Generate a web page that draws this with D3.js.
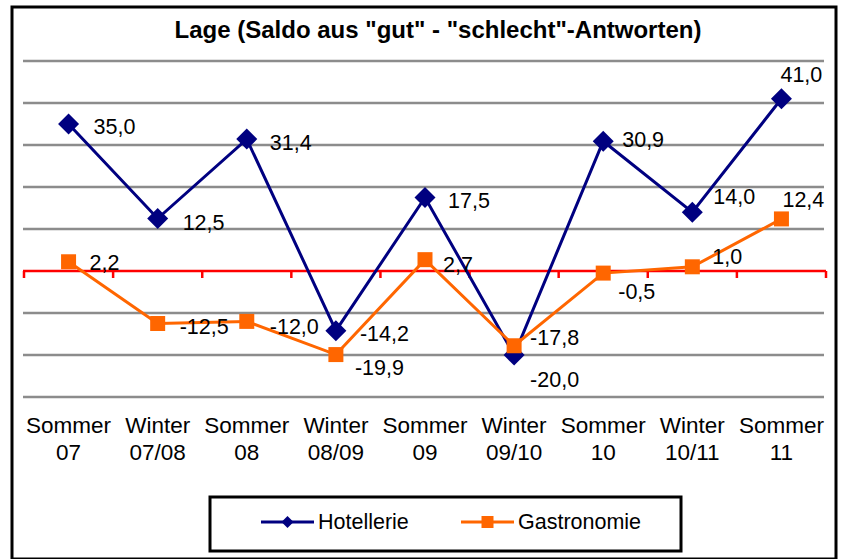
<!DOCTYPE html>
<html>
<head>
<meta charset="utf-8">
<script src="https://cdn.jsdelivr.net/npm/d3@7"></script>
<style>
  html, body { margin: 0; padding: 0; background: #fff; }
  svg { display: block; }
  text { font-family: "Liberation Sans", Arial, sans-serif; fill: #000; }
</style>
</head>
<body>
<script>
// ---- data ----
const categoriesLine1 = ["Sommer", "Winter", "Sommer", "Winter", "Sommer", "Winter", "Sommer", "Winter", "Sommer"];
const categoriesLine2 = ["07", "07/08", "08", "08/09", "09", "09/10", "10", "10/11", "11"];
const hotellerie = [35.0, 12.5, 31.4, -14.2, 17.5, -20.0, 30.9, 14.0, 41.0];
const gastronomie = [2.2, -12.5, -12.0, -19.9, 2.7, -17.8, -0.5, 1.0, 12.4];
const gridValues = [-30, -20, -10, 10, 20, 30, 40, 50];
const seriesNames = ["Hotellerie", "Gastronomie"];
const titleText = 'Lage (Saldo aus "gut" - "schlecht"-Antworten)';

// label placement offsets (layout only)
const hotLabelDx = [25, 25, 23, 24, 23, 16, 19, 21, -1];
const hotLabelDy = [3, 4, 4, 3, 3, 25, -1, -15, -24];
const gasLabelDx = [21, 22, 23, 19, 18, 16, 15, 20, 1];
const gasLabelDy = [1, 3, 6, 13, 5, -8, 19, -10, -19];

const W = 845, H = 559;
const navy = "#000080", orange = "#FF6600";

const svg = d3.select("body").append("svg").attr("width", W).attr("height", H);

// outer frame
svg.append("rect").attr("x", 12).attr("y", 7).attr("width", 824).attr("height", 552)
  .attr("fill", "#fff").attr("stroke", "#000").attr("stroke-width", 3);

const idx = categoriesLine1.map((d, i) => i);
const x = d3.scaleBand().domain(idx).range([24, 826]);
const y = d3.scaleLinear().domain([-30, 50]).range([397, 61]);

// title
svg.append("text").attr("x", 438).attr("y", 38).attr("text-anchor", "middle")
  .attr("font-size", 24).attr("font-weight", "bold").text(titleText);

// gridlines
svg.append("g").selectAll("line").data(gridValues).join("line")
  .attr("x1", 23).attr("x2", 824)
  .attr("y1", d => y(d)).attr("y2", d => y(d))
  .attr("stroke", "#8c8c8c").attr("stroke-width", 2.5);

// zero axis (red) with ticks
const axis = d3.axisBottom(x).tickSize(0).tickFormat("");
const axG = svg.append("g").attr("transform", `translate(0,${y(0)})`).call(axis);
axG.select(".domain").attr("stroke", "red").attr("stroke-width", 2.5).attr("d", `M23,0H826`);
const bounds = idx.map(i => x(i)).concat([x(idx[idx.length - 1]) + x.bandwidth()]);
axG.selectAll(".rtick").data(bounds).join("line").attr("class", "rtick")
  .attr("x1", d => d).attr("x2", d => d).attr("y1", 0).attr("y2", 7)
  .attr("stroke", "red").attr("stroke-width", 2.5);

// category labels
const cx = i => x(i) + x.bandwidth() / 2;
const catG = svg.append("g");
catG.selectAll("text.l1").data(categoriesLine1).join("text").attr("class", "l1")
  .attr("x", (d, i) => cx(i)).attr("y", 433).attr("text-anchor", "middle")
  .attr("font-size", 22.5).text(d => d);
catG.selectAll("text.l2").data(categoriesLine2).join("text").attr("class", "l2")
  .attr("x", (d, i) => cx(i)).attr("y", 460).attr("text-anchor", "middle")
  .attr("font-size", 22.5).text(d => d);

const fmt = v => d3.format(".1f")(v).replace(".", ",").replace("−", "-");
const line = d3.line().x((d, i) => cx(i)).y(d => y(d));

const diamond = r => `M0,${-r}L${r},0L0,${r}L${-r},0Z`;
const square = s => `M${-s / 2},${-s / 2}h${s}v${s}h${-s}Z`;

// Hotellerie
svg.append("path").datum(hotellerie).attr("d", line).attr("fill", "none")
  .attr("stroke", navy).attr("stroke-width", 3);
svg.append("g").selectAll("path").data(hotellerie).join("path")
  .attr("transform", (d, i) => `translate(${cx(i)},${y(d)})`)
  .attr("d", diamond(10.5)).attr("fill", navy);

// Gastronomie
svg.append("path").datum(gastronomie).attr("d", line).attr("fill", "none")
  .attr("stroke", orange).attr("stroke-width", 3);
svg.append("g").selectAll("path").data(gastronomie).join("path")
  .attr("transform", (d, i) => `translate(${cx(i)},${y(d)})`)
  .attr("d", square(15)).attr("fill", orange);

// data labels
svg.append("g").selectAll("text").data(hotellerie).join("text")
  .attr("x", (d, i) => cx(i) + hotLabelDx[i]).attr("y", (d, i) => y(d) + hotLabelDy[i])
  .attr("dominant-baseline", "central").attr("font-size", 21.5).text(fmt);
svg.append("g").selectAll("text").data(gastronomie).join("text")
  .attr("x", (d, i) => cx(i) + gasLabelDx[i]).attr("y", (d, i) => y(d) + gasLabelDy[i])
  .attr("dominant-baseline", "central").attr("font-size", 21.5).text(fmt);

// legend
const lg = svg.append("g");
lg.append("rect").attr("x", 210).attr("y", 497).attr("width", 471).attr("height", 54)
  .attr("fill", "#fff").attr("stroke", "#000").attr("stroke-width", 3);
const legendItems = [
  { name: seriesNames[0], color: navy, x0: 261, marker: diamond(6) },
  { name: seriesNames[1], color: orange, x0: 461, marker: square(12) }
];
const li = lg.selectAll("g.item").data(legendItems).join("g").attr("class", "item")
  .attr("transform", d => `translate(${d.x0},522)`);
li.append("line").attr("x1", 0).attr("x2", 53).attr("stroke", d => d.color).attr("stroke-width", 3);
li.append("path").attr("transform", "translate(26.5,0)").attr("d", d => d.marker).attr("fill", d => d.color);
li.append("text").attr("x", 57).attr("y", 7).attr("font-size", 21.5).text(d => d.name);
</script>
</body>
</html>
